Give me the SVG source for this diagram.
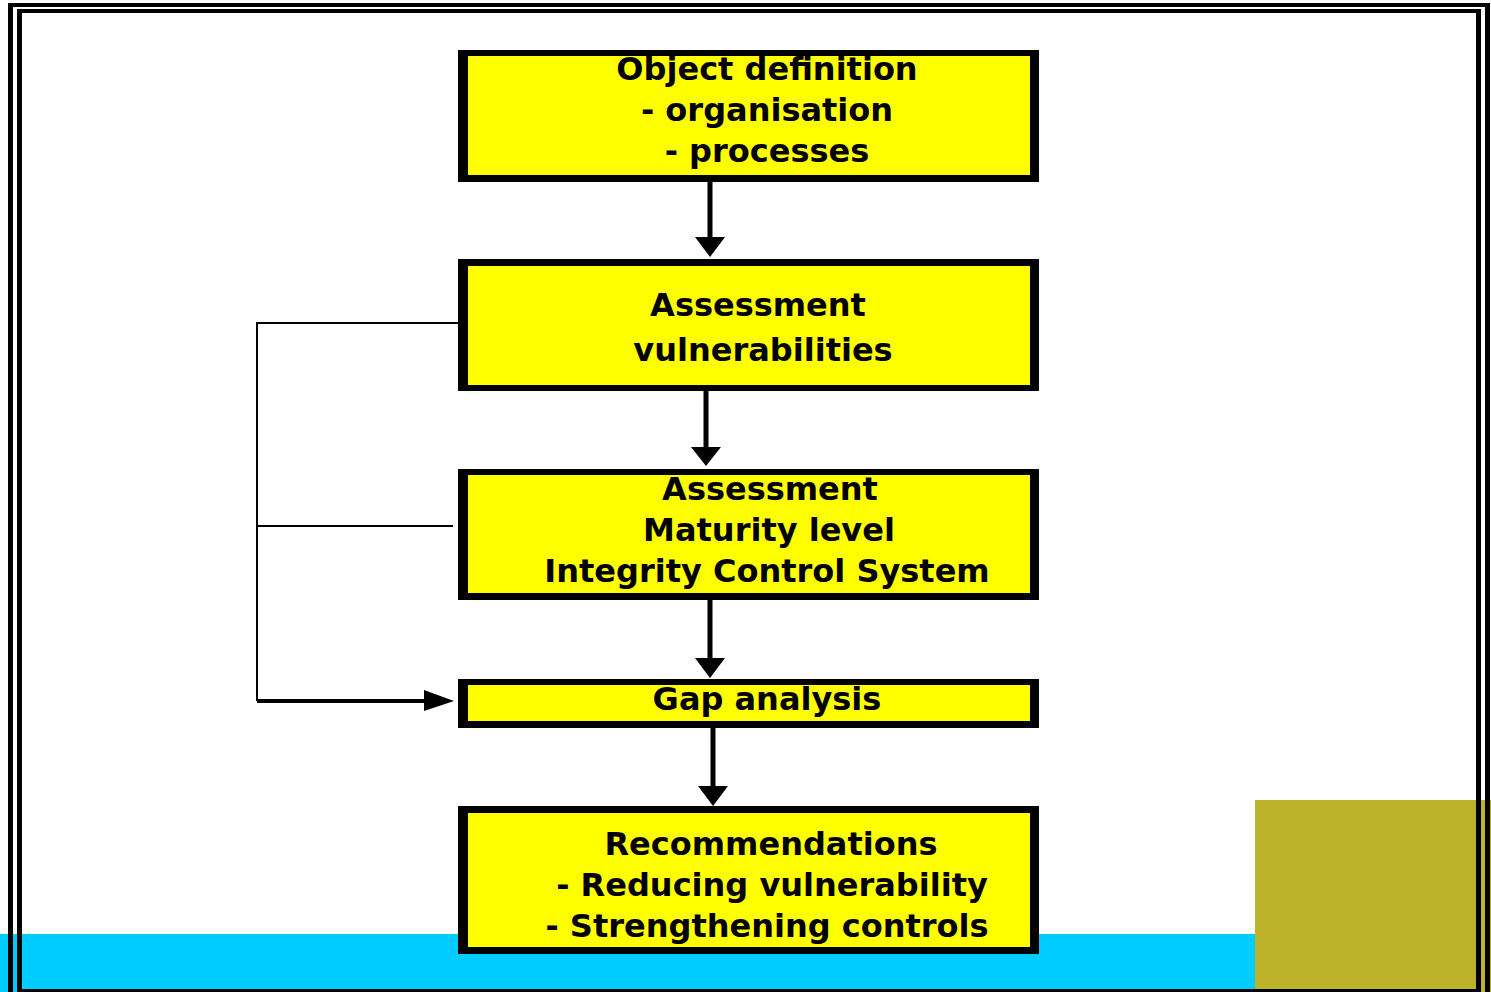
<svg xmlns="http://www.w3.org/2000/svg" width="1491" height="992" viewBox="0 0 1491 992">
<defs>
<style>
.frame{fill:#000}
.box-outer{fill:#000}
.box-inner{fill:#FFFF00}
.lbl{font-family:"DejaVu Sans",Verdana,sans-serif;font-weight:bold;font-size:32px;fill:#000;text-anchor:middle}
.thin{stroke:#000;stroke-width:2;fill:none}
.thick{stroke:#000;stroke-width:5;fill:none}
.head{fill:#000}
</style>
</defs>
<rect width="1491" height="992" fill="#fff"/>
<g id="background">
<rect x="0" y="934" width="1255" height="58" fill="#00CCFF"/>
<rect x="1255" y="800" width="236" height="192" fill="#BEB22A"/>
</g>
<g id="frame">
<rect class="frame" x="8" y="3" width="1482" height="4"/>
<rect class="frame" x="8" y="3" width="5" height="989"/>
<rect class="frame" x="1485" y="3" width="5" height="989"/>
<rect class="frame" x="17" y="9" width="1464" height="4"/>
<rect class="frame" x="17" y="9" width="5" height="983"/>
<rect class="frame" x="1476" y="9" width="5" height="983"/>
<rect class="frame" x="17" y="989" width="1464" height="3"/>
</g>
<g id="connectors">
<line class="thick" x1="710" y1="181" x2="710" y2="240"/>
<polygon class="head" points="695,237 725,237 710,257"/>
<line class="thick" x1="706" y1="391" x2="706" y2="450"/>
<polygon class="head" points="691,447 721,447 706,466"/>
<line class="thick" x1="710" y1="600" x2="710" y2="661"/>
<polygon class="head" points="695,658 725,658 710,678"/>
<line class="thick" x1="713" y1="728" x2="713" y2="789"/>
<polygon class="head" points="698,786 728,786 713,806"/>
<polyline class="thin" points="458,323 257,323 257,701"/>
<line class="thin" x1="257" y1="526" x2="453" y2="526"/>
<line stroke="#000" stroke-width="4" x1="257" y1="701" x2="428" y2="701"/>
<polygon class="head" points="424,690 454,701 424,711"/>
</g>
<g id="node1">
<rect class="box-outer" x="458" y="50" width="581" height="132"/>
<rect class="box-inner" x="468" y="56" width="562" height="119"/>
<text class="lbl" x="767" y="80">Object definition</text>
<text class="lbl" x="767" y="121">- organisation</text>
<text class="lbl" x="767" y="162">- processes</text>
</g>
<g id="node2">
<rect class="box-outer" x="458" y="259" width="581" height="132"/>
<rect class="box-inner" x="468" y="266" width="562" height="119"/>
<text class="lbl" x="758" y="316">Assessment</text>
<text class="lbl" x="763" y="361">vulnerabilities</text>
</g>
<g id="node3">
<rect class="box-outer" x="458" y="469" width="581" height="131"/>
<rect class="box-inner" x="468" y="475" width="562" height="118"/>
<text class="lbl" x="770" y="500">Assessment</text>
<text class="lbl" x="769" y="541">Maturity level</text>
<text class="lbl" x="767" y="582">Integrity Control System</text>
</g>
<g id="node4">
<rect class="box-outer" x="458" y="679" width="581" height="49"/>
<rect class="box-inner" x="468" y="685" width="562" height="36"/>
<text class="lbl" x="767" y="710">Gap analysis</text>
</g>
<g id="node5">
<rect class="box-outer" x="458" y="806" width="581" height="148"/>
<rect class="box-inner" x="468" y="813" width="562" height="134"/>
<text class="lbl" x="771" y="855">Recommendations</text>
<text class="lbl" x="772" y="896">- Reducing vulnerability</text>
<text class="lbl" x="767" y="937">- Strengthening controls</text>
</g>
</svg>
